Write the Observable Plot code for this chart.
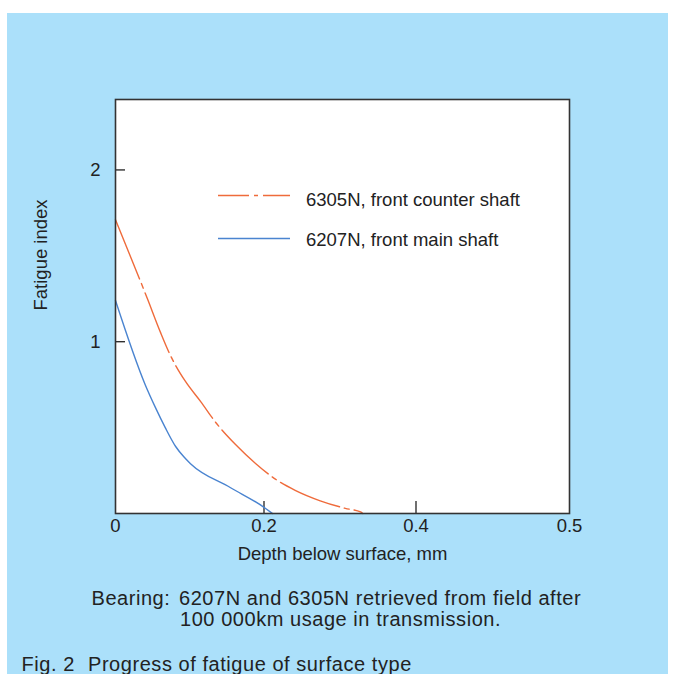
<!DOCTYPE html>
<html>
<head>
<meta charset="utf-8">
<script src="https://cdn.jsdelivr.net/npm/d3@7"></script>
<script src="https://cdn.jsdelivr.net/npm/@observablehq/plot@0.6"></script>
<style>
  html, body { margin: 0; padding: 0; background: #ffffff; width: 674px; height: 674px; overflow: hidden; }
  #panel { position: absolute; left: 7px; top: 13px; width: 661px; height: 661px; background: #abe0fa; }
  #chart { position: absolute; left: 0; top: 0; }
  #overlay { position: absolute; left: 0; top: 0; }
</style>
</head>
<body>
<div id="panel"></div>
<div id="chart"></div>
<svg id="overlay" width="674" height="674"></svg>
<script>
// ---- data ----
const counterDepth = [0, 0.043, 0.061, 0.074, 0.094, 0.115, 0.135, 0.162, 0.189, 0.215, 0.241, 0.274, 0.307, 0.327, 0.330];
const counterIndex = [1.71, 1.25, 1.05, 0.92, 0.77, 0.65, 0.53, 0.40, 0.29, 0.20, 0.135, 0.074, 0.030, 0.009, 0];
const mainDepth = [0, 0.040, 0.054, 0.067, 0.081, 0.092, 0.101, 0.155, 0.200, 0.211];
const mainIndex = [1.24, 0.75, 0.615, 0.50, 0.39, 0.33, 0.29, 0.15, 0.036, 0];
const seriesNames = ["6305N, front counter shaft", "6207N, front main shaft"];
const seriesColors = ["#ef6b3b", "#4a84d0"];
const xTickLabels = [0, 0.2, 0.4, 0.5];
const xTickMarks = [0.2, 0.4];
const yTickLabels = [1, 2];
const xBreaks = [0, 0.2, 0.4, 0.5];   // axis as drawn in the original (uneven spacing)
const xLabel = "Depth below surface, mm";
const yLabel = "Fatigue index";
const captionHead = "Bearing:";
const captionLines = ["6207N and 6305N retrieved from field after", "100 000km usage in transmission."];
const figNumber = "Fig. 2";
const figTitle = "Progress of fatigue of surface type";

const counter = counterDepth.map((d, i) => ({depth: d, index: counterIndex[i]}));
const main = mainDepth.map((d, i) => ({depth: d, index: mainIndex[i]}));

const FONT = "'Liberation Sans', Arial, Helvetica, sans-serif";
const W = 674, H = 580, ML = 115, MR = 105, MT = 99, MB = 67;
const plotW = W - ML - MR;
// the original's x axis is unevenly spaced: map depth to its drawn position (pixels from the left edge)
const drawnPos = d3.scaleLinear().domain(xBreaks).range([0, 148.5, 300.5, plotW]);

const chart = Plot.plot({
  width: W, height: H,
  marginLeft: ML, marginRight: MR, marginTop: MT, marginBottom: MB,
  style: {background: "transparent", fontFamily: FONT, fontSize: "18.5px", color: "#222", overflow: "visible"},
  x: {transform: drawnPos, domain: [0, plotW], axis: null},
  y: {domain: [0, 2.41], axis: null},
  marks: [
    Plot.frame({fill: "white", stroke: null}),
    Plot.tickY(yTickLabels, {y: d => d, insetRight: plotW - 10, stroke: "#222", strokeWidth: 1.3}),
    Plot.tickX(xTickMarks, {x: d => d, insetTop: (H - MT - MB) - 12, stroke: "#222", strokeWidth: 1.3}),
    Plot.line(counter, {x: "depth", y: "index", stroke: seriesColors[0], strokeWidth: 1.4, strokeDasharray: "64,5,5,5", curve: "monotone-x"}),
    Plot.line(main, {x: "depth", y: "index", stroke: seriesColors[1], strokeWidth: 1.4, curve: "monotone-x"}),
    Plot.text(yTickLabels, {y: d => d, frameAnchor: "left", dx: -15, textAnchor: "end", text: d => String(d), fontSize: 18.5, fill: "#222"}),
    Plot.text(xTickLabels, {x: d => d, frameAnchor: "bottom", dy: 5, lineAnchor: "top", text: d => String(d), fontSize: 18.5, fill: "#222"}),
    Plot.text([xLabel], {frameAnchor: "bottom", dy: 41, lineAnchor: "middle", fontSize: 18.5, fill: "#222"}),
    Plot.text([yLabel], {frameAnchor: "left", dx: -74, dy: 4, rotate: -90, fontSize: 18.5, fill: "#222"}),
    Plot.frame({stroke: "#333", strokeWidth: 1.6})
  ]
});
document.getElementById("chart").appendChild(chart);

// ---- legend and caption overlay ----
const ov = d3.select("#overlay").style("font-family", FONT);
const legendY = [195.5, 238.5];
const legendBase = [205.5, 246];
const legendDash = ["31,5,4,5", null];
seriesNames.forEach((name, i) => {
  ov.append("line")
    .attr("x1", 218).attr("x2", 290).attr("y1", legendY[i]).attr("y2", legendY[i])
    .attr("stroke", seriesColors[i]).attr("stroke-width", 1.3)
    .attr("stroke-dasharray", legendDash[i]);
  ov.append("text").attr("x", 306).attr("y", legendBase[i])
    .attr("font-size", 18.5).attr("fill", "#222").text(name);
});

const cap = ov.append("g").attr("font-size", 20).attr("fill", "#222").attr("letter-spacing", "0.55px");
cap.append("text").attr("x", 91.5).attr("y", 605).text(captionHead);
cap.append("text").attr("x", 179).attr("y", 605).text(captionLines[0]);
cap.append("text").attr("x", 180).attr("y", 625.7).text(captionLines[1]);
cap.append("text").attr("x", 21.5).attr("y", 671).text(figNumber);
cap.append("text").attr("x", 88).attr("y", 671).text(figTitle);
</script>
</body>
</html>
